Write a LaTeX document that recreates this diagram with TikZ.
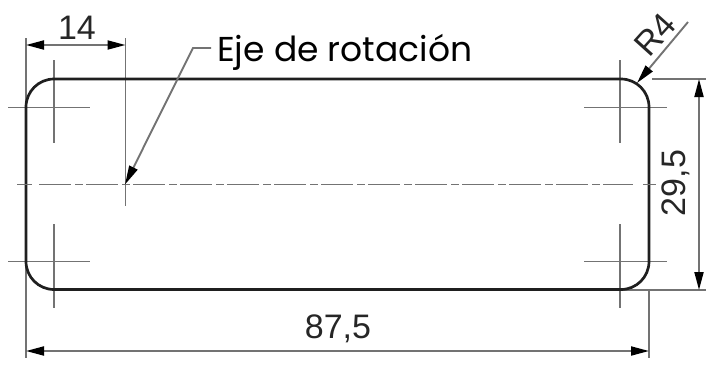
\documentclass[tikz,border=0pt]{standalone}
\usepackage{fontspec}
\setmainfont{Liberation Sans}
\newfontfamily\labelfont{Poppins}
\usetikzlibrary{arrows.meta}
\definecolor{thinc}{gray}{0.45}
\definecolor{thickc}{gray}{0.12}
\tikzset{
  x=1pt,y=-1pt,
  outline/.style={draw=thickc,line width=2.7pt},
  thinline/.style={draw=thinc,line width=1.9pt},
  dimline/.style={thinline,{Triangle[length=18pt,width=9pt,color=black]}-{Triangle[length=18pt,width=9pt,color=black]}},
  leader/.style={thinline,-{Triangle[length=19pt,width=9pt,color=black]}},
  dimtext/.style={inner sep=0pt,text=black!85,font=\fontsize{34}{34}\selectfont},
  labeltext/.style={inner sep=0pt,text=black,font=\labelfont\fontsize{34.5}{34.5}\selectfont,anchor=base west}
}
\begin{document}
\begin{tikzpicture}
\useasboundingbox (0,0) rectangle (706,367);
% extension lines
\draw[thinline] (26,38) -- (26,358);
\draw[thinline] (649,289) -- (649,358);
\draw[thinline] (125.5,38) -- (125.5,206);
\draw[thinline] (652,79) -- (706,79);
\draw[thinline] (620,290) -- (706,290);
% corner centre marks
\draw[thinline] (8,107.5) -- (90,107.5);
\draw[thinline] (54,60) -- (54,143);
\draw[thinline] (584,107.5) -- (667,107.5);
\draw[thinline] (620,60) -- (620,143);
\draw[thinline] (8,261.5) -- (90,261.5);
\draw[thinline] (54,224) -- (54,308);
\draw[thinline] (584,261.5) -- (667,261.5);
\draw[thinline] (620,224) -- (620,308);
% part outline
\draw[outline,rounded corners=28pt] (26,79) rectangle (649,289.5);
% centre line
\draw[thinline] (17,184.5) -- (32,184.5);
\draw[thinline,dash pattern=on 32pt off 4pt on 7.5pt off 3.5pt] (39,184.5) -- (633,184.5);
\draw[thinline] (643,184.5) -- (656,184.5);
% dimensions
\coordinate (d14a) at (26,45); \coordinate (d14b) at (125.5,45);
\draw[dimline] (d14a) -- (d14b);
\coordinate (d87a) at (26,351); \coordinate (d87b) at (649,351);
\draw[dimline] (d87a) -- (d87b);
\coordinate (d29a) at (699,79); \coordinate (d29b) at (699,290);
\draw[dimline] (d29a) -- (d29b);
\node[dimtext] (t14) at (77,27.5) {14};
\node[dimtext] (t87) at (338,329) {87,5};
\node[dimtext,rotate=90] (t29) at (676,183) {29,5};
\node[dimtext,rotate=48] (tr4) at (655,35) {R4};
% leaders
\coordinate (r4a) at (688,22); \coordinate (r4b) at (637,83);
\draw[leader] (r4a) -- (r4b);
\node[labeltext] (eje) at (217,61) {Eje de rotación};
\coordinate (lk) at (193,48); \coordinate (tip) at (125,184.5);
\draw[leader] (211,48) -- (lk) -- (tip);
\end{tikzpicture}
\end{document}
